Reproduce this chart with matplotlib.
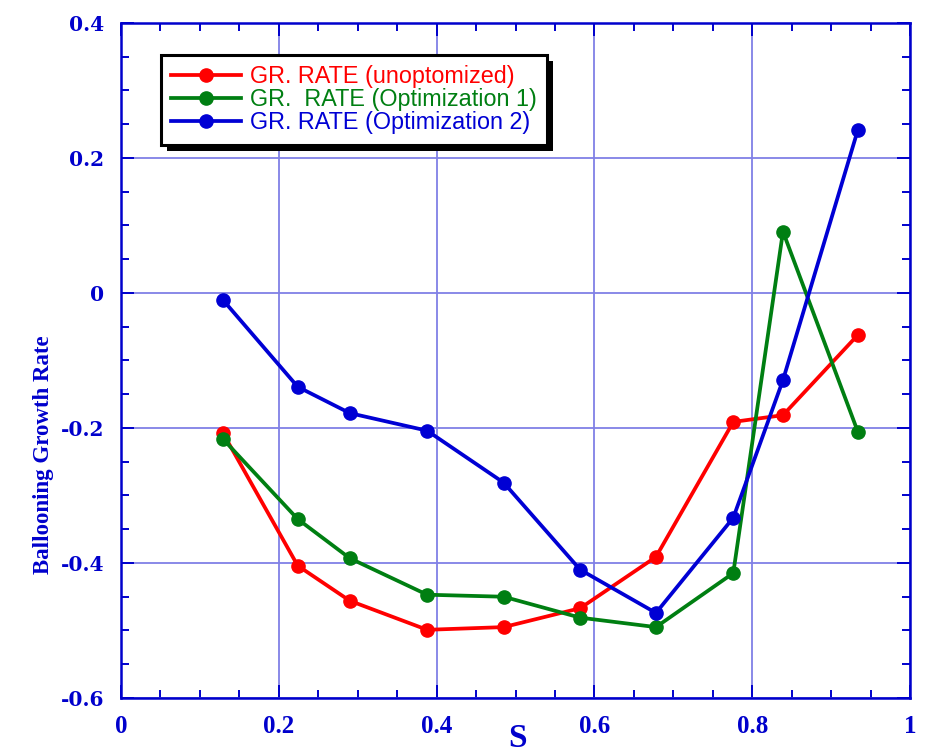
import matplotlib
matplotlib.use("Agg")
import matplotlib.pyplot as plt
from matplotlib.patches import Rectangle
from matplotlib.ticker import MultipleLocator

# Datos
s = [0.129, 0.224, 0.290, 0.388, 0.485, 0.582, 0.678, 0.776, 0.839, 0.934]
gr_unopt = [-0.207, -0.404, -0.456, -0.499, -0.495, -0.467, -0.391, -0.191, -0.181, -0.062]
gr_opt1 = [-0.216, -0.335, -0.393, -0.447, -0.450, -0.481, -0.495, -0.415, 0.091, -0.206]
gr_opt2 = [-0.010, -0.139, -0.178, -0.204, -0.281, -0.410, -0.474, -0.333, -0.129, 0.242]

labels = ["GR. RATE (unoptomized)", "GR.  RATE (Optimization 1)", "GR. RATE (Optimization 2)"]
colors = ["#ff0000", "#007f12", "#0000d4"]
xticks = [0, 0.2, 0.4, 0.6, 0.8, 1]
yticks = [-0.6, -0.4, -0.2, 0, 0.2, 0.4]

axis_blue = "#0000cc"
grid_blue = "#8080e6"

fig = plt.figure(figsize=(9.25, 7.54), dpi=100)
ax = fig.add_axes([0.1308, 0.0743, 0.8530, 0.8952])

for y, c, lab in zip([gr_unopt, gr_opt1, gr_opt2], colors, labels):
    ax.plot(s, y, color=c, lw=2.7, marker="o", ms=9.5, label=lab, zorder=3)

ax.set_xlim(0, 1)
ax.set_ylim(-0.6, 0.4)
ax.set_xticks(xticks)
ax.set_yticks(yticks)
ax.set_xticklabels(["0" if t == 0 else ("1" if t == 1 else f"{t:.1f}") for t in xticks])
ax.set_yticklabels(["0" if t == 0 else f"{t:.1f}" for t in yticks])
ax.xaxis.set_minor_locator(MultipleLocator(0.05))
ax.yaxis.set_minor_locator(MultipleLocator(0.05))

ax.grid(True, which="major", color=grid_blue, lw=1.3, zorder=0)
ax.set_axisbelow(True)

for sp in ax.spines.values():
    sp.set_color(axis_blue)
    sp.set_linewidth(1.8)

ax.tick_params(which="both", direction="in", top=True, right=True, colors=axis_blue, width=1.4)
ax.tick_params(which="major", length=9.5)
ax.tick_params(which="minor", length=6)
ax.tick_params(axis="y", pad=12)
ax.tick_params(axis="x", pad=12)

for t in ax.get_yticklabels():
    t.set_fontfamily("DejaVu Serif")
    t.set_fontweight("bold")
    t.set_fontsize(14.5)
    t.set_color(axis_blue)
for t in ax.get_xticklabels():
    t.set_fontfamily("Liberation Serif")
    t.set_fontweight("bold")
    t.set_fontsize(18)
    t.set_color(axis_blue)

ax.set_ylabel("Ballooning Growth Rate", fontfamily="Liberation Serif", fontweight="bold",
              fontsize=16.5, color=axis_blue)
ax.yaxis.set_label_coords(-0.085, 0.36)
ax.set_xlabel("S", fontfamily="Liberation Serif", fontweight="bold", fontsize=24,
              color=axis_blue, va="baseline")
ax.xaxis.set_label_coords(0.502, -0.072)

leg = ax.legend(loc="upper left", bbox_to_anchor=(0.0507, 0.9526), borderaxespad=0,
                frameon=True, fancybox=False, edgecolor="black", framealpha=1,
                prop={"family": "Liberation Sans", "size": 16.8},
                labelcolor="linecolor", handlelength=3.0, handletextpad=0.35,
                labelspacing=0.0, borderpad=0.45)
leg.get_frame().set_linewidth(2.2)
leg.set_zorder(6)

# sombra negra del cuadro de leyenda
fig.canvas.draw()
bb = leg.get_window_extent().transformed(ax.transAxes.inverted())
dx, dy = 6 / (0.8530 * 925), 6 / (0.8952 * 754)
ax.add_patch(Rectangle((bb.x0 + dx, bb.y0 - dy), bb.width, bb.height, transform=ax.transAxes,
                       facecolor="black", edgecolor="none", zorder=5, clip_on=False))

fig.savefig("out.png", dpi=100)
